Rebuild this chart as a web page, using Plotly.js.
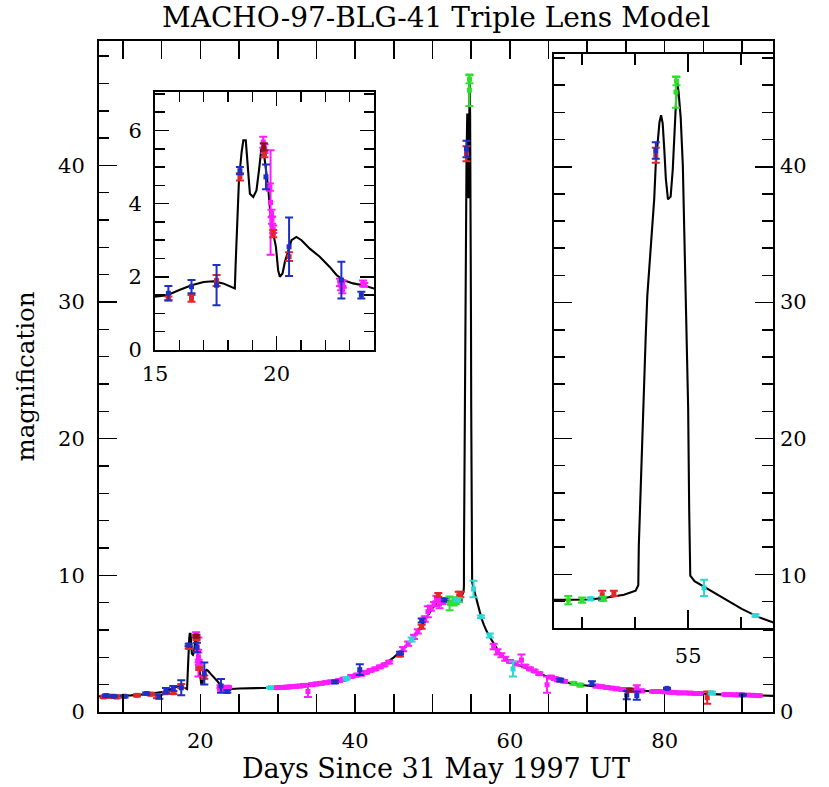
<!DOCTYPE html>
<html>
<head>
<meta charset="utf-8">
<script src="https://cdn.plot.ly/plotly-3.0.1.min.js"></script>
<style>html,body{margin:0;padding:0;background:#fff;}</style>
</head>
<body>
<div id="chart" style="width:829px;height:787px;"></div>
<script>
// ---- model light curve (days, magnification) ----
const modelDays = [6.9,9,11,13,14,15,15.5,16,16.5,17,17.4,17.8,18.1,18.28,18.32,18.38,18.45,18.56,18.63,18.73,18.79,18.9,19.04,19.17,19.28,19.38,19.47,19.56,19.65,19.72,19.79,19.86,19.97,20.06,20.13,20.24,20.34,20.47,20.61,20.81,21.02,21.36,21.77,22.18,22.46,22.73,23.14,23.55,24,25,27,29,30,32,34,36,38,40,42,43,44,45,46,47,48,49,49.5,50,50.5,51,52,52.47,53.15,53.47,53.79,54.01,54.06,54.07,54.1,54.13,54.16,54.2,54.23,54.25,54.3,54.36,54.39,54.43,54.46,54.49,54.52,54.55,54.58,54.62,54.67,54.71,54.74,54.77,54.79,54.82,54.86,54.9,54.93,54.95,54.97,55.0,55.02,55.04,55.12,55.38,55.7,56.01,56.33,56.65,57,57.5,58,58.7,59.5,60.4,61.5,63,65,67,69,71,73,75,77,79,81,83,85,87,89,91,94.1];
const modelMag  = [1.15,1.18,1.22,1.3,1.36,1.45,1.5,1.64,1.77,1.86,1.88,1.82,1.73,1.68,2.45,3.68,4.64,5.41,5.73,5.73,5.23,4.27,4.18,4.36,4.95,5.55,5.41,5.0,4.45,3.9,3.45,3.18,2.82,2.18,2.0,2.09,2.41,2.73,3.0,3.09,3.0,2.77,2.55,2.27,2.05,1.91,1.82,1.77,1.68,1.72,1.73,1.77,1.8,1.87,1.98,2.12,2.35,2.68,3.05,3.3,3.6,4.0,4.5,5.1,5.85,6.7,7.2,7.6,7.9,8.05,8.1,8.07,8.15,8.3,8.5,8.8,9.2,12.1,16.0,19.65,23.55,27.5,30.5,31.5,34.7,37.6,40.2,42.0,43.3,43.8,43.2,41.3,39.1,37.6,37.8,39.8,42.6,45.5,46.3,45.5,43.6,40.1,34.7,30.1,28.8,22.3,14.7,9.9,9.5,8.9,8.2,7.46,6.85,6.36,5.9,5.4,4.9,4.3,3.9,3.6,3.35,3.0,2.55,2.2,2.0,1.87,1.75,1.65,1.56,1.5,1.44,1.38,1.33,1.29,1.26,1.23,1.18];

// ---- observations by telescope colour ----
const magentaDays = [19.45,19.5,19.72,19.75,19.79,19.81,19.86,22.6,22.65,22.7,22.72,23.55,23.6,29.8,30.3,30.8,31.2,31.7,32.3,32.8,33.4,33.9,34.4,35.0,35.6,36.2,36.8,37.9,38.5,39.5,40.2,40.8,41.4,42.0,42.6,43.2,43.8,44.4,46.2,46.85,47.6,48.1,49.0,49.4,49.8,50.2,50.5,50.9,51.3,57.9,58.4,58.9,59.4,60.0,60.8,61.5,62.0,62.6,63.2,63.8,64.8,65.3,65.8,66.2,67.0,71.2,71.8,72.5,73.2,73.8,74.5,75.2,75.9,76.4,77.0,78.5,79.2,79.9,80.6,81.2,81.9,82.6,83.3,84.0,84.6,87.8,88.4,89.0,89.6,90.8,91.5,92.2];
const magentaMag  = [5.68,5.5,4.45,4.03,3.73,3.55,3.3,1.85,1.75,1.65,1.8,1.82,1.78,1.78,1.8,1.8,1.82,1.85,1.88,1.9,1.95,1.5,2.0,2.05,2.1,2.15,2.2,2.3,2.4,2.6,2.7,2.8,2.9,3.05,3.15,3.3,3.45,3.65,4.6,5.0,5.5,5.9,6.8,7.34,7.6,7.9,8.3,7.9,8.1,4.8,4.4,4.15,3.9,3.7,3.55,3.8,3.35,3.15,3.0,2.8,2.0,2.55,2.45,2.35,2.25,1.9,1.85,1.8,1.75,1.7,1.65,1.62,1.6,1.7,1.55,1.5,1.5,1.48,1.45,1.43,1.4,1.4,1.38,1.35,1.35,1.28,1.27,1.26,1.25,1.24,1.22,1.2];
const magentaErr  = [0.15,0.12,0.1,1.43,0.1,0.1,0.1,0.1,0.12,0.1,0.1,0.08,0.05,0.08,0.1,0.08,0.1,0.1,0.08,0.1,0.1,0.4,0.1,0.1,0.1,0.1,0.1,0.1,0.1,0.1,0.1,0.15,0.1,0.1,0.1,0.1,0.1,0.1,0.15,0.15,0.15,0.15,0.2,0.4,0.2,0.15,0.2,0.3,0.2,0.2,0.2,0.15,0.15,0.1,0.15,0.4,0.1,0.1,0.1,0.1,0.6,0.1,0.1,0.1,0.1,0.1,0.1,0.1,0.08,0.1,0.1,0.1,0.08,0.25,0.1,0.08,0.1,0.08,0.1,0.08,0.1,0.08,0.1,0.1,0.08,0.08,0.08,0.08,0.1,0.08,0.08,0.08];

const redDays = [7.5,8.3,9.2,11.8,13.6,14.4,15.55,16.5,17.53,18.49,19.5,19.86,20.51,45.8,48.6,50.75,53.38,53.6,54.39,85.5];
const redMag  = [1.1,1.15,1.1,1.22,1.3,1.15,1.41,1.41,1.9,4.73,5.36,3.18,2.55,4.17,6.24,8.56,8.5,8.6,40.85,1.05];
const redErr  = [0.08,0.1,0.1,0.08,0.1,0.15,0.05,0.09,0.15,0.1,0.09,0.1,0.12,0.1,0.15,0.15,0.3,0.2,0.55,0.45];

const blueDays = [7.8,8.8,10.2,13.0,14.7,15.55,16.5,17.53,18.49,19.56,20.51,22.66,23.48,37.4,40.6,45.8,48.6,51.6,53.38,54.39,66.5,70.6,75.1,76.4,80.3,90.1];
const blueMag  = [1.2,1.15,1.15,1.35,1.12,1.55,1.73,1.77,4.9,4.73,2.82,1.91,1.5,2.2,3.1,4.3,6.7,8.2,8.2,41.2,2.34,2.1,1.24,1.2,1.73,1.25];
const blueErr  = [0.08,0.05,0.08,0.08,0.15,0.2,0.18,0.55,0.1,0.34,0.8,0.5,0.09,0.1,0.4,0.1,0.15,0.1,0.1,0.6,0.1,0.15,0.3,0.3,0.05,0.05];

const greenDays = [52.2,52.74,53.0,53.4,54.77,54.78,68.2,69.1];
const greenMag  = [7.95,8.1,8.1,8.2,45.5,46.3,2.1,1.97];
const greenErr  = [0.5,0.3,0.2,0.15,1.15,0.3,0.1,0.1];

const cyanDays = [29.0,38.9,47.3,53.16,55.3,56.27,57.4,60.4,86.1];
const cyanMag  = [1.78,2.45,5.3,8.2,9.0,6.97,5.6,3.15,1.4];
const cyanErr  = [0.05,0.08,0.15,0.1,0.6,0.1,0.15,0.55,0.08];

const darkRedDays = [19.47,75.5];
const darkRedMag  = [5.55,1.6];
const darkRedErr  = [0.1,0.1];

const titleText = 'MACHO-97-BLG-41 Triple Lens Model';
const xTitle = 'Days Since 31 May 1997 UT';
const yTitle = 'magnification';

// ---- build traces ----
const axesPairs = [['x','y'],['x2','y2'],['x3','y3']];
const series = [
  {d:magentaDays, m:magentaMag, e:magentaErr, c:'#ff1cff'},
  {d:redDays, m:redMag, e:redErr, c:'#e3262a'},
  {d:blueDays, m:blueMag, e:blueErr, c:'#1f2fc4'},
  {d:greenDays, m:greenMag, e:greenErr, c:'#2ee02e'},
  {d:cyanDays, m:cyanMag, e:cyanErr, c:'#2ad8d8'},
  {d:darkRedDays, m:darkRedMag, e:darkRedErr, c:'#8a1414'}
];
const traces = [];
axesPairs.forEach(([xa,ya]) => {
  traces.push({x:modelDays, y:modelMag, xaxis:xa, yaxis:ya, mode:'lines',
    line:{color:'#000', width:2.1}, hoverinfo:'skip', showlegend:false});
  series.forEach(s => {
    traces.push({x:s.d, y:s.m, xaxis:xa, yaxis:ya, mode:'markers',
      marker:{color:s.c, size:5, symbol:'square'},
      error_y:{type:'data', array:s.e, visible:true, color:s.c, thickness:2, width:4},
      hoverinfo:'skip', showlegend:false});
  });
});
// carrier for right-side labels
traces.push({x:[50], y:[0], xaxis:'x', yaxis:'y4', mode:'markers', marker:{opacity:0}, hoverinfo:'skip', showlegend:false});

const F = 'DejaVu Serif, Liberation Serif, serif';
const tickFont = {family:F, size:21, color:'#000'};
const frame = {showline:true, linecolor:'#000', linewidth:2, mirror:'allticks', ticks:'inside',
  tickcolor:'#000', tickwidth:1.6, showgrid:false, zeroline:false, tickfont:tickFont, fixedrange:true};

const layout = {
  width:829, height:787,
  margin:{l:99, r:56, t:41, b:75},
  paper_bgcolor:'#fff', plot_bgcolor:'#fff',
  showlegend:false,
  title:{text:titleText, font:{family:F, size:28, color:'#000'}, x:0.526, xref:'container', xanchor:'center', y:0.978, yref:'container', yanchor:'middle'},
  xaxis:Object.assign({}, frame, {domain:[0,1], anchor:'y', range:[6.9,94.0], dtick:20, tick0:0, ticklen:18,
    minor:{dtick:5, ticklen:10, ticks:'inside', tickcolor:'#000', tickwidth:1.6},
    ticklabelstandoff:9,
    title:{text:xTitle, font:{family:F, size:27, color:'#000'}, standoff:6}}),
  yaxis:Object.assign({}, frame, {domain:[0,1], anchor:'x', range:[0,49.1], dtick:10, tick0:0, ticklen:18,
    minor:{dtick:2, ticklen:10, ticks:'inside', tickcolor:'#000', tickwidth:1.6},
    ticklabelstandoff:8,
    title:{text:yTitle, font:{family:F, size:24.5, color:'#000'}, standoff:16}}),
  yaxis4:{overlaying:'y', side:'right', anchor:'x', range:[0,49.1], dtick:10, tick0:0, showline:false, ticks:'',
    showgrid:false, zeroline:false, tickfont:tickFont, ticklabelstandoff:6, fixedrange:true},
  xaxis2:Object.assign({}, frame, {domain:[0.0831,0.408], anchor:'y2', range:[15,24], dtick:5, tick0:0, ticklen:14,
    minor:{dtick:1, ticklen:10, ticks:'inside', tickcolor:'#000', tickwidth:1.6}, ticklabelstandoff:4}),
  yaxis2:Object.assign({}, frame, {domain:[0.5395,0.924], anchor:'x2', range:[0,7.05], dtick:2, tick0:0, ticklen:14,
    minor:{dtick:0.5, ticklen:10, ticks:'inside', tickcolor:'#000', tickwidth:1.6}, ticklabelstandoff:7}),
  xaxis3:Object.assign({}, frame, {domain:[0.675,1.0], anchor:'y3', range:[52.47,56.6], dtick:5, tick0:0, ticklen:18,
    minor:{dtick:1, ticklen:11, ticks:'inside', tickcolor:'#000', tickwidth:1.6}, ticklabelstandoff:8}),
  yaxis3:Object.assign({}, frame, {domain:[0.1252,0.9806], anchor:'x3', range:[6.05,48.3], dtick:10, tick0:0, ticklen:18,
    showticklabels:false,
    minor:{dtick:2, ticklen:11, ticks:'inside', tickcolor:'#000', tickwidth:1.6}})
};

Plotly.newPlot('chart', traces, layout, {displayModeBar:false, staticPlot:true});
</script>
</body>
</html>
